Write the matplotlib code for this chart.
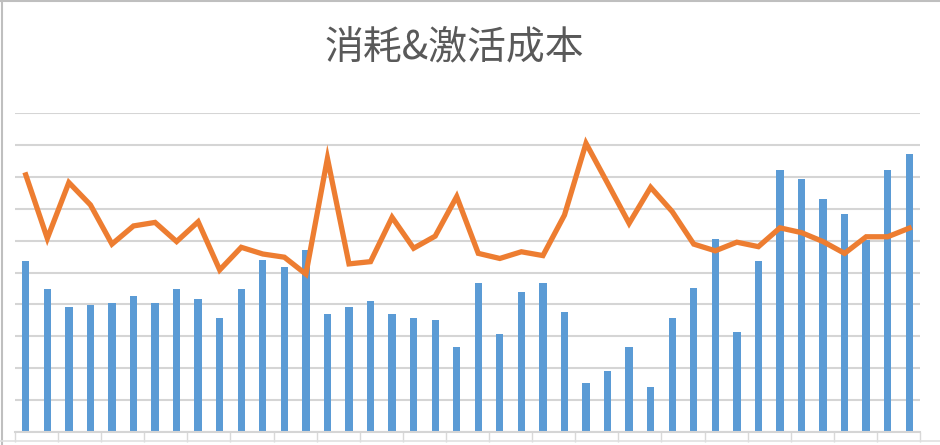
import numpy as np
import matplotlib
matplotlib.use('Agg')
import matplotlib.pyplot as plt

plt.rcParams['font.family'] = ['Noto Sans CJK SC', 'DejaVu Sans']

title = '消耗&激活成本'

spend = [5.37, 4.47, 3.91, 3.98, 4.05, 4.25, 4.05, 4.47, 4.18, 3.56,
         4.47, 5.39, 5.16, 5.71, 3.71, 3.91, 4.12, 3.71, 3.56, 3.50,
         2.66, 4.67, 3.07, 4.40, 4.67, 3.77, 1.55, 1.90, 2.66, 1.42,
         3.56, 4.52, 6.06, 3.14, 5.36, 8.21, 7.94, 7.30, 6.82, 6.02,
         8.21, 8.70]

# 激活成本 (line)
cost = [8.06, 6.07, 7.82, 7.12, 5.89, 6.46, 6.57, 5.97, 6.59, 5.08,
        5.79, 5.58, 5.48, 4.95, 8.58, 5.27, 5.34, 6.73, 5.76, 6.14,
        7.38, 5.60, 5.44, 5.65, 5.53, 6.80, 9.05, 7.80, 6.54, 7.67,
        6.91, 5.89, 5.68, 5.95, 5.81, 6.40, 6.25, 5.97, 5.60, 6.12,
        6.12, 6.39]

x = np.arange(len(spend))

fig = plt.figure(figsize=(9.4, 4.45), dpi=100)
ax = fig.add_axes([15 / 940, 13 / 445, 905 / 940, 319 / 445])

ax.bar(x, spend, width=0.34, color='#5B9BD5', zorder=2)
ax.plot(x, cost, color='#ED7D31', lw=3.8, solid_joinstyle='miter', zorder=3)

ax.set_xlim(-0.5, len(spend) - 0.5)
ax.set_ylim(0, 10)
ax.set_yticks(np.arange(0, 11, 1))
ax.yaxis.grid(True, color='#D5D5D5', lw=1.5, zorder=0)
ax.set_xticks(np.arange(-0.5, len(spend), 2))
ax.tick_params(axis='x', length=7, width=1, color='#D9D9D9', labelbottom=False)
ax.tick_params(axis='y', length=0, labelleft=False)
for s in ['top', 'right', 'left']:
    ax.spines[s].set_visible(False)
ax.spines['bottom'].set_color('#D5D5D5')
ax.spines['bottom'].set_linewidth(1.5)

fig.text(454 / 940, 1 - 47 / 445, title, ha='center', va='center',
         fontsize=28, color='#595959')

# chart frame edges
fig.add_artist(plt.Line2D([0.002, 0.002], [0, 1], color='#BFBFBF', lw=1.5))
fig.add_artist(plt.Line2D([0, 1], [0.997, 0.997], color='#BFBFBF', lw=1.5))
fig.add_artist(plt.Line2D([0, 1], [0.008, 0.008], color='#E0E0E0', lw=1.2))

fig.savefig('out.png', dpi=100)
